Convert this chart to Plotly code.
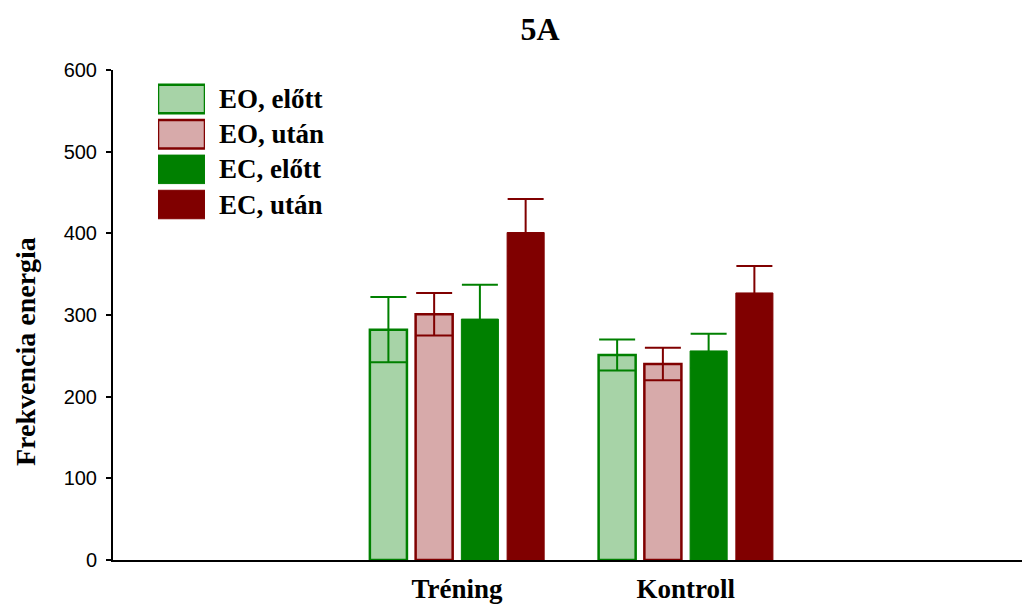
import plotly.graph_objects as go

# Groups and series
groups = ["Tréning", "Kontroll"]
series = ["EO, előtt", "EO, után", "EC, előtt", "EC, után"]

# Mean values per series (Tréning, Kontroll)
eo_elott = [282, 251]
eo_utan = [301, 240]
ec_elott = [295, 256]
ec_utan = [401, 327]

# Error (± SE) per series
eo_elott_err = [40, 19]
eo_utan_err = [26, 20]
ec_elott_err = [42, 21]
ec_utan_err = [41, 33]

y_ticks = [0, 100, 200, 300, 400, 500, 600]

GREEN = "#008000"
DARKRED = "#800000"
TINT = {GREEN: "#d6ebd6", DARKRED: "#f0dada"}
SERIF = "Liberation Serif, Times New Roman, serif"
SANS = "Liberation Sans, Arial, sans-serif"

values = [eo_elott, eo_utan, ec_elott, ec_utan]
errors = [eo_elott_err, eo_utan_err, ec_elott_err, ec_utan_err]
colors = [GREEN, DARKRED, GREEN, DARKRED]
patterned = [True, True, False, False]

x_pos = list(range(len(groups)))

fig = go.Figure()


def bar_marker(color, pat):
    if pat:
        return dict(
            color="white",
            line=dict(color=color, width=2.5),
            pattern=dict(shape=".", fgcolor=color, bgcolor=TINT[color],
                         size=2, solidity=0.5, fillmode="overlay"),
        )
    return dict(color=color, line=dict(color=color, width=1))


for name, vals, errs, col, pat in zip(series, values, errors, colors, patterned):
    fig.add_trace(go.Bar(
        x=x_pos, y=vals, name=name, showlegend=False,
        marker=bar_marker(col, pat),
        error_y=dict(type="data", array=errs, visible=True,
                     color=col, thickness=2, width=18),
        hoverinfo="skip",
    ))

# Key swatches drawn as horizontal bars on their own small axes
for i, (name, col, pat) in enumerate(zip(series, colors, patterned)):
    fig.add_trace(go.Bar(
        x=[1], y=[i], base=0, orientation="h", width=0.81, offset=-0.405,
        marker=bar_marker(col, pat), showlegend=False,
        xaxis="x2", yaxis="y2", hoverinfo="skip",
    ))
    fig.add_annotation(
        x=0.1144, xref="paper", y=i, yref="y2", text=f"<b>{name}</b>",
        showarrow=False, xanchor="left", yanchor="middle",
        font=dict(family=SERIF, size=27, color="black"),
    )

# Y-axis title, placed in paper coordinates
fig.add_annotation(
    x=(25 - 113) / 909, xref="paper", y=(560 - 352) / 490, yref="paper",
    text="<b>Frekvencia energia</b>", textangle=-90, showarrow=False,
    xanchor="center", yanchor="middle",
    font=dict(family=SERIF, size=28, color="black"),
)

fig.update_layout(
    width=1022, height=605,
    margin=dict(l=113, r=0, t=70, b=45),
    paper_bgcolor="white", plot_bgcolor="white",
    barmode="group", bargap=0.2, bargroupgap=0.19,
    title=dict(text="<b>5A</b>", x=0.4697, xref="paper", xanchor="center",
               y=1 - 29 / 605, yref="container", yanchor="middle",
               font=dict(family=SERIF, size=32, color="black")),
    xaxis=dict(
        range=[-1.504, 2.47], tickvals=x_pos,
        ticktext=[f"<b>{g}</b>" for g in groups],
        tickfont=dict(family=SERIF, size=27, color="black"),
        showline=True, linecolor="black", linewidth=2,
        ticks="", showgrid=False, zeroline=False, fixedrange=True,
        ticklabelstandoff=4,
    ),
    yaxis=dict(
        range=[0, 600], tickvals=y_ticks,
        tickfont=dict(family=SANS, size=20, color="black"),
        showline=True, linecolor="black", linewidth=2,
        ticks="outside", ticklen=5, tickwidth=1.5, tickcolor="black",
        showgrid=False, zeroline=False, ticklabelstandoff=5,
        fixedrange=True,
    ),
    xaxis2=dict(domain=[0.0495, 0.1012], range=[0, 1], anchor="y2",
                visible=False, fixedrange=True),
    yaxis2=dict(domain=[0.6896, 0.9767], range=[3.5, -0.5], anchor="x2",
                visible=False, fixedrange=True),
)

fig.write_html("out.html")
